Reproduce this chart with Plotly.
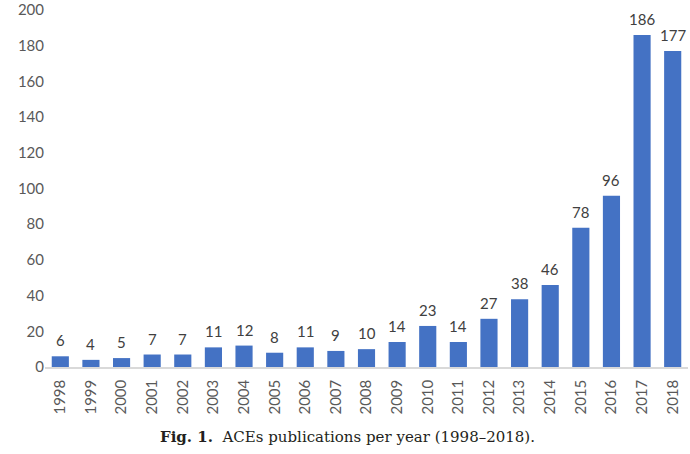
import plotly.graph_objects as go

years = ["1998", "1999", "2000", "2001", "2002", "2003", "2004", "2005", "2006", "2007",
         "2008", "2009", "2010", "2011", "2012", "2013", "2014", "2015", "2016", "2017", "2018"]
publications = [6, 4, 5, 7, 7, 11, 12, 8, 11, 9, 10, 14, 23, 14, 27, 38, 46, 78, 96, 186, 177]
y_ticks = [0, 20, 40, 60, 80, 100, 120, 140, 160, 180, 200]

fig = go.Figure(go.Bar(
    x=years, y=publications,
    marker=dict(color="#4472C4", line=dict(width=0)),
))

# value labels above bars (category index positions on the category axis)
annotations = [
    dict(x=i, y=v, text=str(v), xref="x", yref="y", yanchor="bottom", yshift=5,
         showarrow=False, font=dict(family="Lato", size=15, color="#404040"))
    for i, v in enumerate(publications)
]
annotations.append(dict(
    text="<b>Fig. 1.</b>  ACEs publications per year (1998–2018).",
    xref="paper", yref="paper", x=0.471, y=-0.196, yanchor="middle", showarrow=False,
    font=dict(family="DejaVu Serif", size=15, color="#231f20"),
))

fig.update_layout(
    width=690, height=454,
    autosize=False,
    margin=dict(l=45, r=2, t=10, b=87, autoexpand=False),
    paper_bgcolor="white", plot_bgcolor="white",
    bargap=0.44,
    showlegend=False,
    xaxis=dict(type="category", tickangle=-90, showgrid=False, automargin=False,
               range=[-0.5, len(years) - 0.5],
               showline=True, linecolor="#d9d9d9", linewidth=1.5, ticklabelstandoff=5,
               ticks="", tickfont=dict(family="Lato", size=15, color="#595959")),
    yaxis=dict(range=[0, 200], tickvals=y_ticks, showgrid=False, zeroline=False, automargin=False,
               showline=False, ticks="", tickfont=dict(family="Lato", size=15, color="#595959")),
    annotations=annotations,
)

fig.write_html("out.html", config={"displayModeBar": False},
               post_script="document.body.style.margin='0';")
